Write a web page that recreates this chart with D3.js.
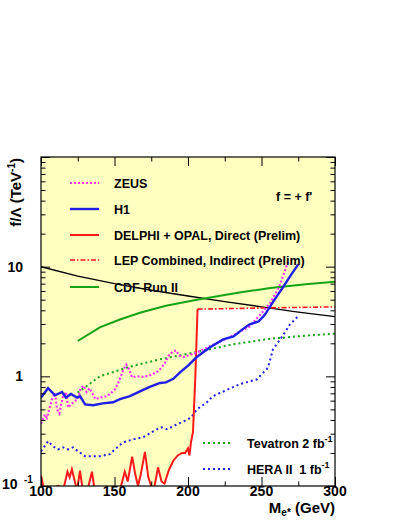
<!DOCTYPE html>
<html><head><meta charset="utf-8">
<script src="https://cdn.jsdelivr.net/npm/d3@7"></script>
<style>
body{margin:0;background:#fff;}
text{font-family:"Liberation Sans",Arial,Helvetica,sans-serif;font-weight:bold;fill:#000;}
</style></head>
<body><svg id="c" width="402" height="520"></svg>
<script>
// ---- data ----
const xTicksMajor = [100,150,200,250,300];
const xTicksMinor = [125,175,225,275];
const yTickLabels = [0.1,1,10];

const zeusM = [100,102.7,104,107.5,109.5,111,112.5,115,117,118.5,120,122,125,127,129,131,133,135,137,140,145,150,153,156,158,160,162,165,170,175,180,184,187,190,192,194,197,200,206,215,229,242,251,256,262,268];
const zeusF = [0.37,0.45,0.42,0.62,0.70,0.50,0.46,0.66,0.72,0.52,0.55,0.58,0.62,0.78,0.82,0.72,0.78,0.70,0.62,0.64,0.66,0.75,0.90,1.15,1.28,1.15,0.98,1.0,0.99,1.03,1.12,1.3,1.55,1.7,1.72,1.55,1.5,1.55,1.65,1.88,2.3,2.85,3.9,4.7,6.5,11];

const h1M = [100,104.8,109.5,114.3,117,120.4,124.5,126.5,130,135.4,142,149,153.7,160.5,167.3,174,181,185,190,195,200,206,215,224,231,237,242,248,252,258,265,269.5,275];
const h1F = [0.64,0.78,0.67,0.72,0.64,0.69,0.64,0.66,0.555,0.545,0.567,0.58,0.62,0.66,0.73,0.80,0.87,0.88,0.95,1.1,1.25,1.5,1.84,2.17,2.31,2.68,2.98,3.17,3.6,4.8,6.6,8.2,10.5];

const delphiM = [100,101.5,103,106,110,112,115,118,119.5,121,123,124.5,126.5,128.5,131,134.7,136.5,140,145,150,154,157,159,162,164,166,168,170.7,173,175,177,179.6,182,184,187,190,193,196,198,200,201,202,203.4,205,206.5];
const delphiF = [0.125,0.1,0.085,0.09,0.098,0.1,0.09,0.135,0.12,0.142,0.11,0.09,0.138,0.09,0.085,0.135,0.09,0.08,0.085,0.09,0.095,0.135,0.11,0.185,0.13,0.1,0.13,0.205,0.12,0.1,0.095,0.148,0.11,0.105,0.14,0.17,0.19,0.2,0.2,0.22,0.19,0.25,0.31,1.0,4.1];

const lepM = [206.5,230,260,300];
const lepF = [4.1,4.15,4.22,4.3];

const cdfM = [125,140,153.7,167.3,185,206,235,256,280,300];
const cdfF = [2.1,2.8,3.3,3.8,4.4,5.0,5.8,6.4,6.9,7.3];

const blackM = [100,125,150,175,200,225,250,275,300];
const blackF = [10.0,8.2,7.0,6.1,5.4,4.8,4.3,3.85,3.5];

const tevM = [125,140,160,180,208,230,256,280,300];
const tevF = [0.71,1.0,1.22,1.42,1.69,1.95,2.2,2.35,2.45];

const heraM = [100,104.8,108.2,111.6,115,118.4,121.8,125.2,130,134.7,140.1,146.9,150.3,155.8,162.6,169.4,178.9,182.3,185.7,192.5,200,202.7,206.1,212.9,217,235.4,247,254.4,257.8,264,269.4,274.8];
const heraF = [0.207,0.256,0.23,0.216,0.225,0.216,0.225,0.207,0.187,0.187,0.187,0.195,0.216,0.25,0.266,0.278,0.329,0.343,0.329,0.365,0.405,0.432,0.5,0.58,0.66,0.85,0.94,1.2,1.76,2.3,2.98,3.52];

// ---- chart ----
const svg = d3.select("#c");
const L=41,R=335,T=157,B=486;
const x = d3.scaleLinear([100,300],[L,R]);
const y = d3.scaleLog([0.1,100],[B,T]);

svg.append("defs").append("clipPath").attr("id","clip")
  .append("rect").attr("x",L).attr("y",T).attr("width",R-L).attr("height",B-T);

const zip = (m,f)=>m.map((v,i)=>[v,f[i]]);
const line = d3.line().x(d=>x(d[0])).y(d=>y(d[1]));
const g = svg.append("g").attr("clip-path","url(#clip)");

// excluded region fill
const fillPts = [[100,100],[300,100]]
  .concat(zip(lepM,lepF).reverse())
  .concat(zip(delphiM,delphiF).reverse());
g.append("path").attr("d",line(fillPts)+"Z").attr("fill","#ffffc0").attr("stroke","none");

function draw(m,f,color,w,dash){
  const p=g.append("path").attr("d",line(zip(m,f))).attr("fill","none")
    .attr("stroke",color).attr("stroke-width",w);
  if(dash) p.attr("stroke-dasharray",dash);
}
draw(tevM,tevF,"#17a317",2,"2,3");
draw(heraM,heraF,"#1f1fe6",2,"2,3");
draw(blackM,blackF,"#000",1.4);
draw(cdfM,cdfF,"#17a317",2);
draw(delphiM,delphiF,"#ff1a1a",2);
draw(lepM,lepF,"#ff1a1a",1.6,"5,2,1.5,2");
draw(zeusM,zeusF,"#ff33ff",2.2,"2,2");
draw(h1M,h1F,"#1f1fe6",2.4);

// axes ticks
function ax(gen,tr,vals,size){
  const a=svg.append("g").attr("transform",tr)
    .call(gen.tickValues(vals).tickSize(size).tickFormat(""));
  a.select(".domain").remove();
  a.selectAll("line").attr("stroke","#000").attr("stroke-width",1);
}
const yMinor=[];
[0.1,1,10].forEach(d=>{for(let k=2;k<=9;k++) yMinor.push(d*k);});
ax(d3.axisTop(x),`translate(0,${B})`,xTicksMajor,9);
ax(d3.axisTop(x),`translate(0,${B})`,xTicksMinor,4.5);
ax(d3.axisBottom(x),`translate(0,${T})`,xTicksMajor,9);
ax(d3.axisBottom(x),`translate(0,${T})`,xTicksMinor,4.5);
ax(d3.axisRight(y),`translate(${L},0)`,[0.1,1,10,100],9);
ax(d3.axisRight(y),`translate(${L},0)`,yMinor,4.5);
ax(d3.axisLeft(y),`translate(${R},0)`,[0.1,1,10,100],9);
ax(d3.axisLeft(y),`translate(${R},0)`,yMinor,4.5);

svg.append("rect").attr("x",L).attr("y",T).attr("width",R-L).attr("height",B-T)
  .attr("fill","none").attr("stroke","#000").attr("stroke-width",1.2);

// tick labels
xTicksMajor.forEach(v=>svg.append("text").attr("x",x(v)).attr("y",496)
  .attr("text-anchor","middle").attr("font-size",14).text(v));
svg.append("text").attr("x",23).attr("y",y(10)+5).attr("text-anchor","end").attr("font-size",14).text("10");
svg.append("text").attr("x",23).attr("y",y(1)+4.5).attr("text-anchor","end").attr("font-size",14).text("1");
svg.append("text").attr("x",2).attr("y",y(0.1)+3).attr("font-size",14).text("10");
svg.append("text").attr("x",24).attr("y",y(0.1)-3).attr("font-size",10).text("-1");

// axis titles
const xt=svg.append("text").attr("x",R).attr("y",513).attr("text-anchor","end").attr("font-size",15);
xt.append("tspan").text("M");
xt.append("tspan").attr("font-size",10).attr("dy",3).text("e*");
xt.append("tspan").attr("dy",-3).text(" (GeV)");

const yt=svg.append("text").attr("transform","translate(21,158) rotate(-90)").attr("text-anchor","end").attr("font-size",15);
yt.append("tspan").text("f/Λ (TeV");
yt.append("tspan").attr("font-size",10).attr("dy",-6).text("-1");
yt.append("tspan").attr("dy",6).text(")");

// legend
const legTop=[
  ["ZEUS","#ff33ff",2.2,"2,2"],
  ["H1","#1f1fe6",2.4,null],
  ["DELPHI + OPAL, Direct (Prelim)","#ff1a1a",2,null],
  ["LEP Combined, Indirect (Prelim)","#ff1a1a",1.6,"5,2,1.5,2"],
  ["CDF Run II","#17a317",2,null]];
const legY=[183,209,235,260,287];
legTop.forEach((d,i)=>{
  const l=svg.append("line").attr("x1",70).attr("x2",99).attr("y1",legY[i]).attr("y2",legY[i])
    .attr("stroke",d[1]).attr("stroke-width",d[2]);
  if(d[3]) l.attr("stroke-dasharray",d[3]);
  svg.append("text").attr("x",114).attr("y",legY[i]+4.5).attr("font-size",12.5).text(d[0]);
});
svg.append("text").attr("x",276).attr("y",201).attr("font-size",12.5).text("f = + f'");

const legBot=[["Tevatron 2 fb","#17a317",443],["HERA II  1 fb","#1f1fe6",469]];
legBot.forEach(d=>{
  svg.append("line").attr("x1",203).attr("x2",232).attr("y1",d[2]).attr("y2",d[2])
    .attr("stroke",d[1]).attr("stroke-width",2).attr("stroke-dasharray","2,3");
  const t=svg.append("text").attr("x",247).attr("y",d[2]+5).attr("font-size",12.5).attr("xml:space","preserve");
  t.append("tspan").text(d[0]);
  t.append("tspan").attr("font-size",9).attr("dy",-6).text("-1");
});
</script></body></html>
